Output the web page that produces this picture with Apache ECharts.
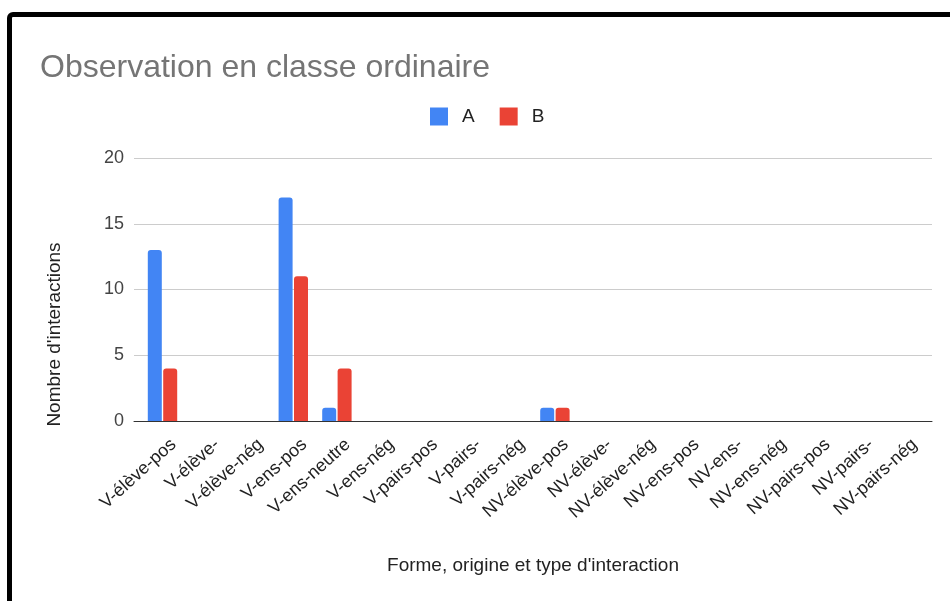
<!DOCTYPE html>
<html>
<head>
<meta charset="utf-8">
<script src="https://cdn.jsdelivr.net/npm/echarts@6/dist/echarts.min.js"></script>
<style>
html,body{margin:0;padding:0;background:#fff;}
#wrap{position:relative;width:950px;height:601px;overflow:hidden;}
#chart{position:absolute;left:0;top:0;width:950px;height:601px;}
#frame{position:absolute;left:7px;top:12px;width:1000px;height:700px;border:5px solid #000;border-top-left-radius:6px;box-sizing:border-box;pointer-events:none;}
</style>
</head>
<body>
<div id="wrap"><div id="chart"></div><div id="frame"></div></div>
<script>
const categories = ["V-élève-pos","V-élève-","V-élève-nég","V-ens-pos","V-ens-neutre","V-ens-nég","V-pairs-pos","V-pairs-","V-pairs-nég","NV-élève-pos","NV-élève-","NV-élève-nég","NV-ens-pos","NV-ens-","NV-ens-nég","NV-pairs-pos","NV-pairs-","NV-pairs-nég"];
const seriesA = [13,0,0,17,1,0,0,0,0,1,0,0,0,0,0,0,0,0];
const seriesB = [4,0,0,11,4,0,0,0,0,1,0,0,0,0,0,0,0,0];
const yTicks = [0,5,10,15,20];

const chart = echarts.init(document.getElementById('chart'));
const font = 'Liberation Sans, Arial, sans-serif';
const TOP = 158, BOTTOM = 180;
const LBL_DX = 11;
chart.setOption({
  animation:false,
  textStyle:{fontFamily:font},
  title:{text:'Observation en classe ordinaire',left:35,top:47,textStyle:{fontFamily:font,fontSize:32,fontWeight:'normal',color:'#757575'}},
  legend:{top:107,left:430,padding:0,itemWidth:18,itemHeight:18,itemGap:25,icon:'rect',textStyle:{fontFamily:font,fontSize:19,color:'#222',padding:[0,0,0,9]},data:['A','B']},
  grid:[
    {left:134,right:18,top:TOP,bottom:BOTTOM},
    {left:140.7,right:24.5,top:TOP,bottom:BOTTOM},
    {left:140.7+LBL_DX,right:24.5-LBL_DX,top:TOP,bottom:BOTTOM}
  ],
  xAxis:[
    {gridIndex:0,type:'category',data:categories,
      name:"Forme, origine et type d'interaction",nameLocation:'middle',nameGap:135,
      nameTextStyle:{fontFamily:font,fontSize:19,color:'#222'},
      axisLine:{lineStyle:{color:'#333',width:1}},axisTick:{show:false},axisLabel:{show:false},splitLine:{show:false}},
    {gridIndex:1,type:'category',data:categories,show:false},
    {gridIndex:2,type:'category',data:categories,
      axisLine:{show:false},axisTick:{show:false},splitLine:{show:false},
      axisLabel:{rotate:42,interval:0,fontSize:18,color:'#222',fontFamily:font,margin:21}}
  ],
  yAxis:[
    {gridIndex:0,type:'value',min:0,max:20,interval:5,
      name:"Nombre d'interactions",nameLocation:'middle',nameGap:70,
      nameTextStyle:{fontFamily:font,fontSize:19,color:'#222',padding:[0,90,0,0]},
      axisLabel:{fontSize:18,color:'#444',fontFamily:font,margin:10,formatter:v=>yTicks.includes(v)?String(v):''},
      splitLine:{lineStyle:{color:'#cccccc'}},axisLine:{show:false},axisTick:{show:false}},
    {gridIndex:1,type:'value',min:0,max:20,interval:5,show:false,splitLine:{show:false}},
    {gridIndex:2,type:'value',min:0,max:20,interval:5,show:false,splitLine:{show:false}}
  ],
  series:[
    {name:'A',type:'bar',xAxisIndex:1,yAxisIndex:1,data:seriesA,barWidth:14,barGap:'10%',itemStyle:{color:'#4285F4',borderRadius:[3,3,0,0]}},
    {name:'B',type:'bar',xAxisIndex:1,yAxisIndex:1,data:seriesB,barWidth:14,barGap:'10%',itemStyle:{color:'#EA4335',borderRadius:[3,3,0,0]}}
  ]
});
</script>
</body>
</html>
